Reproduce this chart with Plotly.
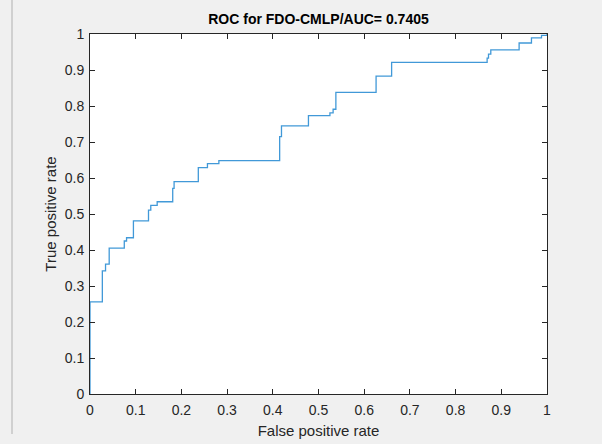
import plotly.graph_objects as go

# ROC curve vertices (false positive rate, true positive rate)
fpr = [0.0, 0.0, 0.027, 0.034, 0.042, 0.075, 0.080, 0.095, 0.128, 0.133, 0.147,
       0.181, 0.184, 0.237, 0.257, 0.282, 0.415, 0.419, 0.478, 0.525, 0.532,
       0.538, 0.626, 0.660, 0.869, 0.872, 0.877, 0.939, 0.966, 0.988, 1.0]
tpr = [0.0, 0.256, 0.342, 0.361, 0.405, 0.425, 0.434, 0.481, 0.511, 0.524, 0.534,
       0.571, 0.590, 0.629, 0.640, 0.648, 0.715, 0.745, 0.773, 0.781, 0.791,
       0.838, 0.883, 0.921, 0.933, 0.944, 0.956, 0.975, 0.989, 0.996, 1.0]

tick_vals = [0, 0.1, 0.2, 0.3, 0.4, 0.5, 0.6, 0.7, 0.8, 0.9, 1]
tick_text = ["0", "0.1", "0.2", "0.3", "0.4", "0.5", "0.6", "0.7", "0.8", "0.9", "1"]

FONT = "Liberation Sans, Arial, sans-serif"

fig = go.Figure()
fig.add_trace(go.Scatter(
    x=fpr, y=tpr, mode="lines", line_shape="hv",
    line=dict(color="#4199d8", width=1.3), showlegend=False,
))

axis_common = dict(
    range=[0, 1], showgrid=False, zeroline=False, automargin=False,
    showline=True, linecolor="#262626", linewidth=1, mirror="ticks",
    ticks="inside", ticklen=5, tickcolor="#262626", tickwidth=1,
    tickvals=tick_vals, ticktext=tick_text,
    tickfont=dict(family=FONT, size=14, color="#262626"),
)

fig.update_layout(
    width=602, height=444,
    margin=dict(l=90, r=55, t=34, b=50),
    paper_bgcolor="#f0f0f0", plot_bgcolor="white",
    title=dict(text="<b>ROC for FDO-CMLP/AUC= 0.7405</b>",
               x=(90 + 547) / 2 / 602, xanchor="center",
               y=1 - 19 / 444, yanchor="middle",
               font=dict(family=FONT, size=14, color="black")),
    xaxis=dict(**axis_common, ticklabelstandoff=3,
               title=dict(text="False positive rate", standoff=8,
                          font=dict(family=FONT, size=15, color="#262626"))),
    yaxis=dict(**axis_common, ticklabelstandoff=2,
               title=dict(text="True positive rate", standoff=4,
                          font=dict(family=FONT, size=15, color="#262626"))),
    shapes=[dict(type="line", xref="paper", yref="paper",
                 x0=(12 - 90) / 457, x1=(12 - 90) / 457,
                 y0=(394 - 0) / 360, y1=(394 - 434) / 360,
                 line=dict(color="#b0b0b0", width=1))],
)

fig.write_html("out.html", config={"displayModeBar": False},
               post_script="document.body.style.margin='0';")
